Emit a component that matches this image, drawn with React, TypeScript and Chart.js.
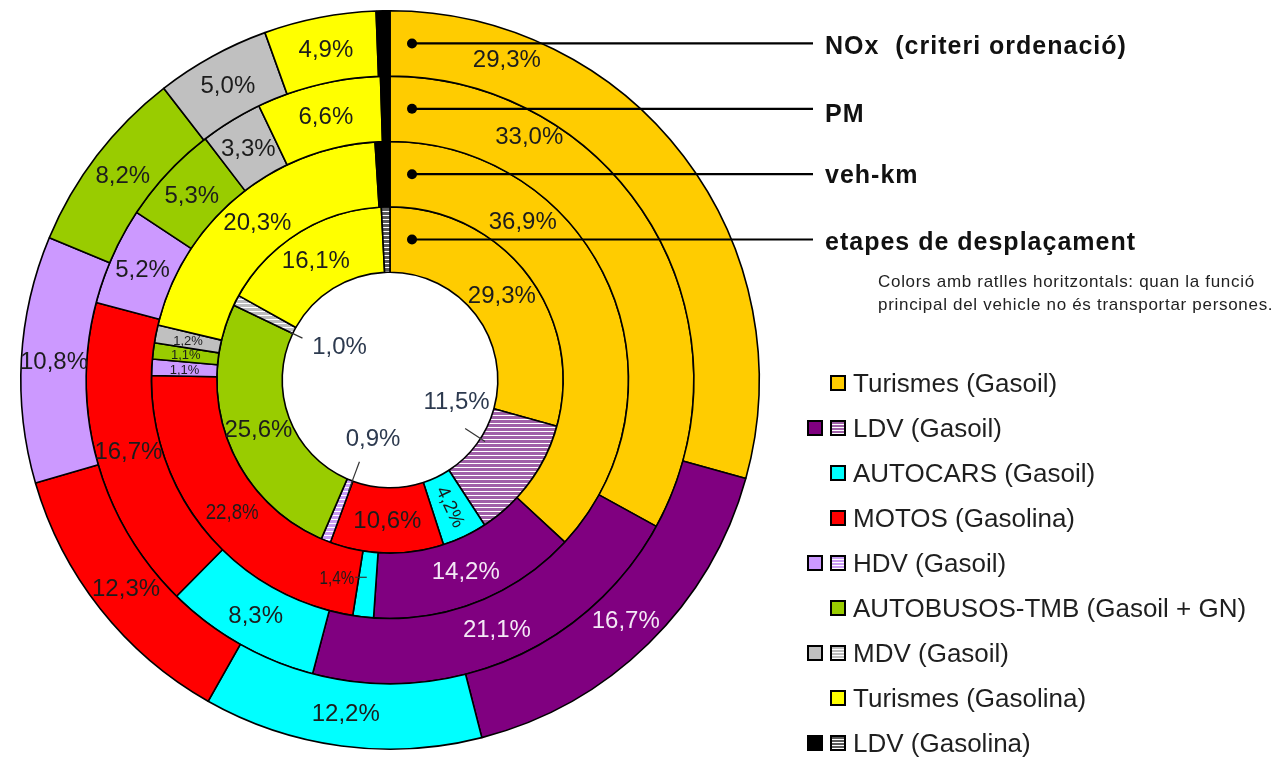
import React, { useEffect, useRef } from "react";
import { Chart, ArcElement, DoughnutController } from "chart.js";

Chart.register(ArcElement, DoughnutController);

// ---------- data ----------
const categories = [
  "Turismes (Gasoil)",
  "LDV (Gasoil)",
  "AUTOCARS (Gasoil)",
  "MOTOS (Gasolina)",
  "HDV (Gasoil)",
  "AUTOBUSOS-TMB (Gasoil + GN)",
  "MDV (Gasoil)",
  "Turismes (Gasolina)",
  "LDV (Gasolina)",
];
const ringNames = ["NOx  (criteri ordenació)", "PM", "veh-km", "etapes de desplaçament"];
const noxValues = [29.3, 16.7, 12.2, 12.3, 10.8, 8.2, 5.0, 4.9, 0.6];
const pmValues = [33.0, 21.1, 8.3, 16.7, 5.2, 5.3, 3.3, 6.6, 0.5];
const vehKmValues = [36.9, 14.2, 1.4, 22.8, 1.1, 1.1, 1.2, 20.3, 1.0];
const etapesValues = [29.3, 11.5, 4.2, 10.6, 0.9, 25.6, 1.0, 16.1, 0.8];
const noteLines = [
  "Colors amb ratlles horitzontals: quan la funció",
  "principal del vehicle no és transportar persones.",
];

// ---------- styles ----------
const ringValues = [noxValues, pmValues, vehKmValues, etapesValues];
const baseColors = ["#FFCC00", "#800080", "#00FFFF", "#FF0000", "#CC99FF", "#99CC00", "#C0C0C0", "#FFFF00", "#000000"];
const hatchStripe: (string | null)[] = [null, "#a060a8", null, null, "#c99cf5", null, "#bdbdbd", null, "#5a5a5a"];
const hatchGap = "#ffffff";
const FONT = '"Liberation Sans", Arial, Helvetica, sans-serif';

type LabelOpt = {
  frac?: number;
  rFrac?: number;
  size?: number;
  scaleX?: number;
  hide?: boolean;
  rotate?: boolean;
  color?: string;
  hole?: { dDeg: number; rad: number };
  leader?: { frac: number; r0: number; r1: number };
  side?: { dDeg: number; rad: number };
};

const labelOpts: Record<number, LabelOpt>[] = [
  { 0: { frac: 0.19, rFrac: 0.57 }, 8: { hide: true } },
  { 0: { frac: 0.25, rFrac: 0.65 }, 8: { hide: true } },
  {
    0: { frac: 0.3, rFrac: 0.52 },
    2: { side: { dDeg: 8.6, rad: 1.18 }, size: 19, scaleX: 0.8 },
    3: { size: 22, scaleX: 0.85 },
    4: { size: 13 },
    5: { size: 13 },
    6: { size: 13 },
    8: { hide: true },
  },
  {
    1: { hole: { dDeg: -18, rad: 0.65 }, leader: { frac: 0.42, r0: 0.83, r1: 1.05 } },
    2: { rotate: true, size: 19 },
    4: { hole: { dDeg: -5.5, rad: 0.56 }, leader: { frac: 0.1, r0: 0.81, r1: 1.1 } },
    6: { hole: { dDeg: 6, rad: 0.56 }, leader: { frac: 0.0, r0: 0.9, r1: 1.03 } },
    8: { hide: true },
  },
];

const fmt = (v: number) => v.toFixed(1).replace(".", ",") + "%";

function makeHatch(stripe: string, gap: string): CanvasPattern | string {
  const c = document.createElement("canvas");
  c.width = 4;
  c.height = 4;
  const g = c.getContext("2d");
  if (!g) return stripe;
  g.fillStyle = gap;
  g.fillRect(0, 0, 4, 4);
  g.fillStyle = stripe;
  g.fillRect(0, 0, 4, 3);
  return g.createPattern(c, "repeat") || stripe;
}

const labelPlugin = {
  id: "ringLabels",
  afterDatasetsDraw(chart: any) {
    const ctx: CanvasRenderingContext2D = chart.ctx;
    ringValues.forEach((vals, ri) => {
      const meta = chart.getDatasetMeta(ri);
      meta.data.forEach((arc: any, ci: number) => {
        const o: LabelOpt = labelOpts[ri][ci] || {};
        if (o.hide) return;
        const { x, y, startAngle, endAngle, innerRadius, outerRadius } = arc;
        const mid = (startAngle + endAngle) / 2;
        const text = fmt(vals[ci]);
        const size = o.size ?? 24;
        let lx: number, ly: number;
        let color = ci === 1 && ri < 3 ? "#f4e8f6" : "#1c1c1c";
        if (o.hole) {
          const a = mid + (o.hole.dDeg * Math.PI) / 180;
          const r = innerRadius * o.hole.rad;
          lx = x + r * Math.cos(a);
          ly = y + r * Math.sin(a);
          color = "#2d3a4f";
        } else if (o.side) {
          const a = mid + (o.side.dDeg * Math.PI) / 180;
          const r = innerRadius * o.side.rad;
          lx = x + r * Math.cos(a);
          ly = y + r * Math.sin(a);
        } else {
          const a = startAngle + (endAngle - startAngle) * (o.frac ?? 0.5);
          const r = innerRadius + (outerRadius - innerRadius) * (o.rFrac ?? 0.5);
          lx = x + r * Math.cos(a);
          ly = y + r * Math.sin(a);
        }
        if (o.color) color = o.color;
        ctx.save();
        ctx.font = `${size}px ${FONT}`;
        const sx = o.scaleX ?? 1;
        const w = ctx.measureText(text).width * sx;
        ctx.strokeStyle = "#333";
        ctx.lineWidth = 1.2;
        if (o.leader) {
          const a = startAngle + (endAngle - startAngle) * o.leader.frac;
          ctx.beginPath();
          ctx.moveTo(x + innerRadius * o.leader.r0 * Math.cos(a), y + innerRadius * o.leader.r0 * Math.sin(a));
          ctx.lineTo(x + innerRadius * o.leader.r1 * Math.cos(a), y + innerRadius * o.leader.r1 * Math.sin(a));
          ctx.stroke();
        }
        if (o.side) {
          const r = (innerRadius + outerRadius) / 2;
          ctx.beginPath();
          ctx.moveTo(lx + w / 2 + 1, ly);
          ctx.lineTo(x + r * Math.cos(mid), ly);
          ctx.stroke();
        }
        ctx.translate(lx, ly);
        if (o.rotate) ctx.rotate(mid);
        ctx.scale(sx, 1);
        ctx.fillStyle = color;
        ctx.textAlign = "center";
        ctx.textBaseline = "middle";
        ctx.fillText(text, 0, 1);
        ctx.restore();
      });
    });
    // ring name pointers
    ctx.save();
    ringValues.forEach((_, ri) => {
      const arc: any = chart.getDatasetMeta(ri).data[0];
      const midR = (arc.innerRadius + arc.outerRadius) / 2;
      const py = arc.y - midR;
      const px = arc.x + 22;
      ctx.strokeStyle = "#000";
      ctx.lineWidth = 2.2;
      ctx.beginPath();
      ctx.moveTo(px, py);
      ctx.lineTo(813, py);
      ctx.stroke();
      ctx.fillStyle = "#000";
      ctx.beginPath();
      ctx.arc(px, py, 5, 0, Math.PI * 2);
      ctx.fill();
    });
    ctx.restore();
  },
};

const titleBaselines = [54, 122, 183, 250];
const legendFirstY = 383;
const legendStep = 45;

function hatchCss(stripe: string) {
  return `repeating-linear-gradient(to bottom, ${stripe} 0px, ${stripe} 2px, ${hatchGap} 2px, ${hatchGap} 3px)`;
}

export default function App() {
  const canvasRef = useRef<HTMLCanvasElement | null>(null);

  useEffect(() => {
    const canvas = canvasRef.current;
    if (!canvas) return;
    const datasets = ringValues.map((vals, ri) => ({
      label: ringNames[ri],
      data: vals,
      backgroundColor: vals.map((_, ci) =>
        ri === 3 && hatchStripe[ci] ? makeHatch(hatchStripe[ci] as string, hatchGap) : baseColors[ci]
      ),
      borderColor: "#000",
      borderWidth: 1.6,
    }));
    const chart = new Chart(canvas, {
      type: "doughnut",
      data: { labels: categories, datasets },
      options: {
        responsive: false,
        maintainAspectRatio: false,
        animation: false,
        events: [],
        cutout: "29.2%",
        layout: { padding: { left: 20, top: 10, right: 521, bottom: 7 } },
        plugins: { legend: { display: false }, tooltip: { enabled: false } } as any,
      },
      plugins: [labelPlugin as any],
    });
    return () => chart.destroy();
  }, []);

  return (
    <div
      style={{
        position: "fixed",
        left: 0,
        top: 0,
        width: 1281,
        height: 757,
        background: "#fff",
        overflow: "hidden",
        fontFamily: FONT,
      }}
    >
      <canvas ref={canvasRef} width={1281} height={757} style={{ position: "absolute", left: 0, top: 0 }} />
      {ringNames.map((n, i) => (
        <div
          key={n}
          style={{
            position: "absolute",
            left: 825,
            top: titleBaselines[i] - 21,
            fontSize: 25,
            lineHeight: "25px",
            fontWeight: "bold",
            letterSpacing: "1px",
            whiteSpace: "pre",
            color: "#111",
          }}
        >
          {n}
        </div>
      ))}
      <div
        style={{
          position: "absolute",
          left: 878,
          top: 270,
          fontSize: 17,
          lineHeight: "23px",
          letterSpacing: "0.7px",
          whiteSpace: "pre",
          color: "#222",
        }}
      >
        {noteLines.map((l) => (
          <div key={l}>{l}</div>
        ))}
      </div>
      {categories.map((name, i) => {
        const cy = legendFirstY + i * legendStep;
        const hatched = hatchStripe[i];
        return (
          <React.Fragment key={name}>
            {hatched && (
              <div
                style={{
                  position: "absolute",
                  left: 807,
                  top: cy - 8,
                  width: 12,
                  height: 12,
                  border: "2px solid #000",
                  background: baseColors[i],
                }}
              />
            )}
            <div
              style={{
                position: "absolute",
                left: 830,
                top: cy - 8,
                width: 12,
                height: 12,
                border: "2px solid #000",
                background: hatched ? hatchCss(hatched) : baseColors[i],
              }}
            />
            <div
              style={{
                position: "absolute",
                left: 853,
                top: cy - 13,
                fontSize: 26,
                lineHeight: "26px",
                whiteSpace: "pre",
                color: "#1f1f1f",
              }}
            >
              {name}
            </div>
          </React.Fragment>
        );
      })}
    </div>
  );
}
